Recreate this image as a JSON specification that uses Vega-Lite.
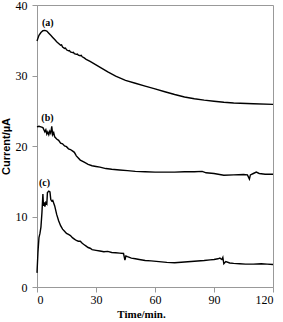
{
  "$schema": "https://vega.github.io/schema/vega-lite/v6.json",
  "autosize": "none",
  "width": 236,
  "height": 282,
  "padding": {"left": 37, "top": 5, "right": 10, "bottom": 35},
  "background": "white",
  "config": {
    "view": {"stroke": "#999999", "strokeWidth": 1},
    "axis": {"grid": false, "domainColor": "#999999", "tickColor": "#999999", "tickSize": 5, "labelFont": "Times New Roman, Liberation Serif, serif", "labelFontSize": 12, "labelColor": "black", "titleColor": "black"}
  },
  "datasets": {
    "curves": [
      {"s":"a","t":0,"v":34.9},{"s":"a","t":0.5,"v":35.3},{"s":"a","t":1,"v":35.7},{"s":"a","t":2,"v":36.1},{"s":"a","t":3,"v":36.35},{"s":"a","t":4,"v":36.4},{"s":"a","t":5,"v":36.3},{"s":"a","t":6,"v":36.0},{"s":"a","t":7,"v":35.7},{"s":"a","t":8,"v":35.4},{"s":"a","t":9,"v":35.1},{"s":"a","t":10,"v":34.8},{"s":"a","t":11,"v":34.55},{"s":"a","t":12,"v":34.3},{"s":"a","t":12.5,"v":34.35},{"s":"a","t":13,"v":34.05},{"s":"a","t":14,"v":33.85},{"s":"a","t":14.5,"v":33.9},{"s":"a","t":15,"v":33.65},{"s":"a","t":16,"v":33.5},{"s":"a","t":16.5,"v":33.55},{"s":"a","t":17,"v":33.35},{"s":"a","t":18,"v":33.25},{"s":"a","t":18.5,"v":33.3},{"s":"a","t":19,"v":33.1},{"s":"a","t":20,"v":33.0},{"s":"a","t":20.5,"v":33.05},{"s":"a","t":21,"v":32.9},{"s":"a","t":22,"v":32.8},{"s":"a","t":22.5,"v":32.85},{"s":"a","t":23,"v":32.65},{"s":"a","t":24,"v":32.5},{"s":"a","t":25,"v":32.3},{"s":"a","t":27,"v":32.0},{"s":"a","t":30,"v":31.5},{"s":"a","t":33,"v":31.0},{"s":"a","t":36,"v":30.5},{"s":"a","t":40,"v":29.9},{"s":"a","t":45,"v":29.3},{"s":"a","t":50,"v":28.9},{"s":"a","t":55,"v":28.5},{"s":"a","t":60,"v":28.1},{"s":"a","t":65,"v":27.7},{"s":"a","t":70,"v":27.3},{"s":"a","t":75,"v":26.95},{"s":"a","t":80,"v":26.7},{"s":"a","t":85,"v":26.5},{"s":"a","t":90,"v":26.35},{"s":"a","t":95,"v":26.2},{"s":"a","t":100,"v":26.1},{"s":"a","t":110,"v":26.0},{"s":"a","t":120,"v":25.9},
      {"s":"b","t":0,"v":22.7},{"s":"b","t":1,"v":22.8},{"s":"b","t":2,"v":22.7},{"s":"b","t":3,"v":22.6},{"s":"b","t":4,"v":22.0},{"s":"b","t":4.5,"v":22.3},{"s":"b","t":5,"v":21.7},{"s":"b","t":5.5,"v":22.0},{"s":"b","t":6,"v":21.6},{"s":"b","t":6.5,"v":22.1},{"s":"b","t":7,"v":21.8},{"s":"b","t":7.5,"v":22.8},{"s":"b","t":8,"v":21.6},{"s":"b","t":8.5,"v":21.9},{"s":"b","t":9,"v":21.3},{"s":"b","t":10,"v":21.0},{"s":"b","t":11,"v":20.8},{"s":"b","t":12,"v":20.4},{"s":"b","t":13,"v":20.3},{"s":"b","t":14,"v":20.0},{"s":"b","t":15,"v":19.9},{"s":"b","t":16,"v":19.6},{"s":"b","t":17,"v":19.5},{"s":"b","t":18,"v":19.3},{"s":"b","t":19,"v":19.1},{"s":"b","t":20,"v":18.6},{"s":"b","t":21,"v":18.3},{"s":"b","t":22,"v":18.0},{"s":"b","t":24,"v":17.7},{"s":"b","t":26,"v":17.4},{"s":"b","t":28,"v":17.2},{"s":"b","t":30,"v":17.1},{"s":"b","t":32,"v":17.0},{"s":"b","t":35,"v":16.8},{"s":"b","t":38,"v":16.7},{"s":"b","t":42,"v":16.6},{"s":"b","t":46,"v":16.5},{"s":"b","t":50,"v":16.4},{"s":"b","t":55,"v":16.35},{"s":"b","t":60,"v":16.3},{"s":"b","t":65,"v":16.3},{"s":"b","t":70,"v":16.3},{"s":"b","t":75,"v":16.35},{"s":"b","t":80,"v":16.35},{"s":"b","t":84,"v":16.4},{"s":"b","t":86,"v":16.2},{"s":"b","t":90,"v":16.1},{"s":"b","t":95,"v":15.85},{"s":"b","t":100,"v":15.9},{"s":"b","t":105,"v":15.95},{"s":"b","t":107,"v":15.9},{"s":"b","t":108,"v":15.3},{"s":"b","t":108.5,"v":15.9},{"s":"b","t":110,"v":16.1},{"s":"b","t":111.5,"v":16.3},{"s":"b","t":113,"v":16.1},{"s":"b","t":116,"v":16.0},{"s":"b","t":120,"v":16.0},
      {"s":"c","t":0,"v":2.0},{"s":"c","t":0.5,"v":5.0},{"s":"c","t":1,"v":7.0},{"s":"c","t":1.5,"v":7.6},{"s":"c","t":2,"v":8.5},{"s":"c","t":2.5,"v":10.5},{"s":"c","t":3,"v":13.2},{"s":"c","t":3.3,"v":11.5},{"s":"c","t":3.7,"v":12.0},{"s":"c","t":4,"v":11.4},{"s":"c","t":4.5,"v":12.0},{"s":"c","t":5,"v":11.8},{"s":"c","t":5.3,"v":13.4},{"s":"c","t":6,"v":13.6},{"s":"c","t":6.6,"v":13.5},{"s":"c","t":7,"v":12.4},{"s":"c","t":7.5,"v":12.2},{"s":"c","t":8,"v":12.3},{"s":"c","t":9,"v":11.5},{"s":"c","t":10,"v":10.3},{"s":"c","t":11,"v":9.4},{"s":"c","t":12,"v":8.7},{"s":"c","t":13,"v":8.2},{"s":"c","t":14,"v":7.9},{"s":"c","t":15,"v":7.6},{"s":"c","t":16,"v":7.45},{"s":"c","t":17,"v":7.3},{"s":"c","t":18,"v":7.0},{"s":"c","t":19,"v":6.8},{"s":"c","t":20,"v":6.6},{"s":"c","t":21,"v":6.5},{"s":"c","t":22,"v":6.5},{"s":"c","t":23,"v":6.2},{"s":"c","t":24,"v":6.0},{"s":"c","t":25,"v":5.8},{"s":"c","t":26,"v":5.6},{"s":"c","t":27,"v":5.5},{"s":"c","t":28,"v":5.3},{"s":"c","t":30,"v":5.2},{"s":"c","t":32,"v":5.1},{"s":"c","t":34,"v":5.0},{"s":"c","t":36,"v":5.05},{"s":"c","t":38,"v":4.9},{"s":"c","t":40,"v":4.85},{"s":"c","t":42,"v":4.8},{"s":"c","t":44,"v":4.75},{"s":"c","t":44.7,"v":3.8},{"s":"c","t":45.2,"v":4.4},{"s":"c","t":46,"v":4.3},{"s":"c","t":48,"v":4.1},{"s":"c","t":50,"v":4.0},{"s":"c","t":52,"v":3.9},{"s":"c","t":55,"v":3.75},{"s":"c","t":58,"v":3.7},{"s":"c","t":62,"v":3.6},{"s":"c","t":66,"v":3.5},{"s":"c","t":70,"v":3.45},{"s":"c","t":75,"v":3.55},{"s":"c","t":80,"v":3.65},{"s":"c","t":85,"v":3.75},{"s":"c","t":88,"v":3.85},{"s":"c","t":90,"v":3.9},{"s":"c","t":92,"v":4.0},{"s":"c","t":93,"v":4.1},{"s":"c","t":94,"v":3.9},{"s":"c","t":94.5,"v":4.2},{"s":"c","t":95,"v":3.3},{"s":"c","t":96,"v":3.6},{"s":"c","t":98,"v":3.4},{"s":"c","t":100,"v":3.35},{"s":"c","t":103,"v":3.3},{"s":"c","t":106,"v":3.25},{"s":"c","t":110,"v":3.25},{"s":"c","t":114,"v":3.3},{"s":"c","t":117,"v":3.25},{"s":"c","t":120,"v":3.2}
    ],
    "labels": [
      {"t":5.5,"v":37.5,"label":"(a)"},
      {"t":5.3,"v":24.0,"label":"(b)"},
      {"t":3.8,"v":14.7,"label":"(c)"}
    ]
  },
  "layer": [
    {
      "data": {"name": "curves"},
      "mark": {"type": "line", "strokeWidth": 1.4, "color": "black"},
      "encoding": {
        "x": {"field": "t", "type": "quantitative", "scale": {"domain": [0, 120], "nice": false}, "axis": {"values": [0, 30, 60, 90, 120], "title": "Time/min.", "titleFont": "Times New Roman, Liberation Serif, serif", "titleFontSize": 11, "titleFontWeight": "bold", "titleX": 104, "titlePadding": 3, "labelPadding": 2}},
        "y": {"field": "v", "type": "quantitative", "scale": {"domain": [0, 40], "nice": false}, "axis": {"values": [0, 10, 20, 30, 40], "title": "Current/µA", "titleFont": "Arial, Liberation Sans, sans-serif", "titleFontSize": 11, "titleFontWeight": "bold", "titlePadding": 4, "labelPadding": 5}},
        "detail": {"field": "s"}
      }
    },
    {
      "data": {"name": "labels"},
      "mark": {"type": "text", "font": "Times New Roman, Liberation Serif, serif", "fontSize": 10, "fontWeight": "bold", "color": "black"},
      "encoding": {
        "x": {"field": "t", "type": "quantitative"},
        "y": {"field": "v", "type": "quantitative"},
        "text": {"field": "label"}
      }
    }
  ]
}
